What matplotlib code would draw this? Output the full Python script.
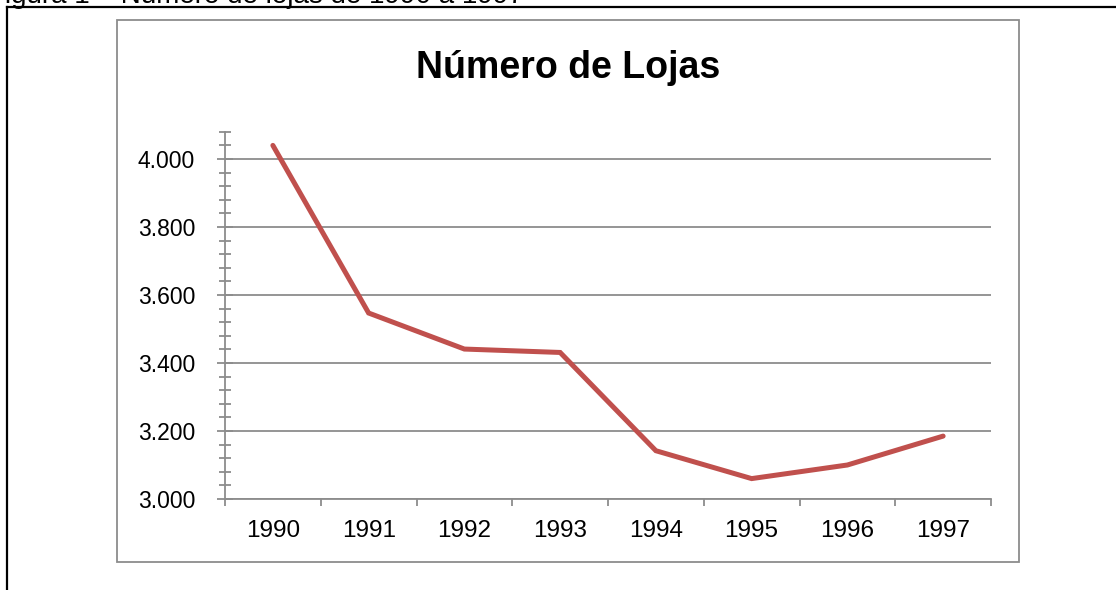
import matplotlib
matplotlib.use("Agg")
import matplotlib.pyplot as plt
from matplotlib.patches import Rectangle
from matplotlib.lines import Line2D
from matplotlib.ticker import FixedLocator, MultipleLocator, FuncFormatter

years = ["1990", "1991", "1992", "1993", "1994", "1995", "1996", "1997"]
lojas = [4040, 3547, 3441, 3431, 3142, 3060, 3100, 3185]
title = "Número de Lojas"
header = "Figura 1 – Número de lojas de 1990 a 1997"

plt.rcParams['font.family'] = ['Liberation Sans', 'DejaVu Sans']

W, H = 1116, 590
fig = plt.figure(figsize=(W / 100, H / 100), dpi=100)

def fx(px):
    return px / W

def fy(py):
    return 1 - py / H

# outer document frame (black)
fig.add_artist(Line2D([fx(7), fx(7)], [fy(7), 0], transform=fig.transFigure,
                      color='black', lw=1.6))
fig.add_artist(Line2D([fx(7), 1.0], [fy(7), fy(7)], transform=fig.transFigure,
                      color='black', lw=1.6))

# header caption (cut off at the top, as in the source document)
fig.text(fx(-12), fy(3.2), header, fontsize=20, ha='left', va='baseline',
         color='black')

# chart area border (gray)
fig.add_artist(Rectangle((fx(117), fy(562)), fx(1019 - 117), (562 - 20) / H,
                         transform=fig.transFigure, fill=False,
                         edgecolor='#8c8c8c', lw=1.3))

ax = fig.add_axes([fx(225), fy(499), fx(991 - 225), (499 - 131.8) / H])
x = list(range(len(years)))
ax.plot(x, lojas, color='#C0504D', lw=3.6, solid_capstyle='round',
        solid_joinstyle='miter', zorder=3)

ax.set_xlim(-0.5, len(years) - 0.5)
ax.set_ylim(3000, 4080)

ax.yaxis.set_major_locator(FixedLocator([3000, 3200, 3400, 3600, 3800, 4000]))
ax.yaxis.set_minor_locator(MultipleLocator(40))
ax.yaxis.set_major_formatter(FuncFormatter(lambda v, p: f"{int(v):,}".replace(",", ".")))
ax.grid(axis='y', which='major', color='#8c8c8c', lw=1.3)
ax.set_axisbelow(True)

ax.set_xticks(x)
ax.set_xticklabels(years)
ax.xaxis.set_minor_locator(FixedLocator([i - 0.5 for i in range(len(years) + 1)]))

ax.tick_params(axis='y', which='major', direction='inout', length=11,
               width=1.3, color='#8c8c8c', labelsize=16.5, pad=16)
ax.tick_params(axis='y', which='minor', direction='inout', length=8,
               width=1.3, color='#8c8c8c')
ax.tick_params(axis='x', which='major', length=0, labelsize=17.5, pad=15)
ax.tick_params(axis='x', which='minor', direction='out', length=5,
               width=1.3, color='#8c8c8c')

for s in ['top', 'right']:
    ax.spines[s].set_visible(False)
for s in ['left', 'bottom']:
    ax.spines[s].set_color('#8c8c8c')
    ax.spines[s].set_linewidth(1.3)

fig.text(fx(568), fy(78), title, fontsize=27, fontweight='bold',
         ha='center', va='baseline', color='black')

fig.savefig('out.png', dpi=100)
